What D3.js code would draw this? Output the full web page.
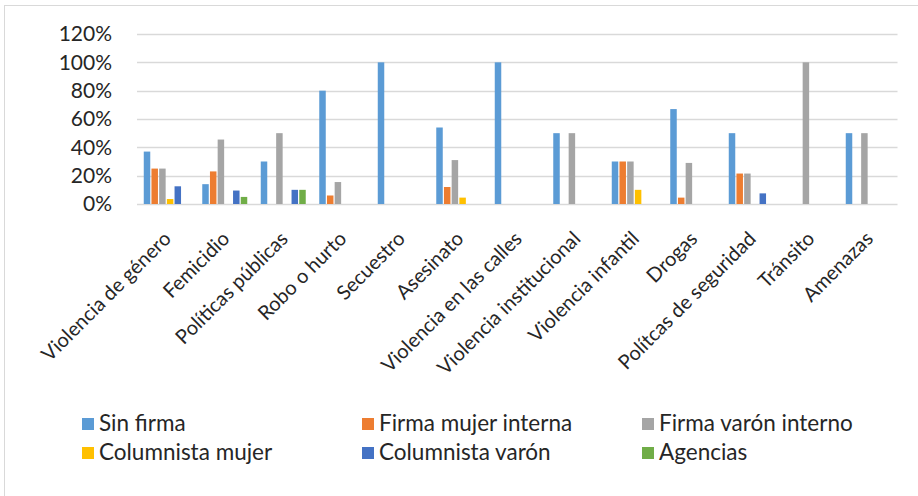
<!DOCTYPE html>
<html>
<head>
<meta charset="utf-8">
<script src="https://cdn.jsdelivr.net/npm/d3@7"></script>
<style>
  body { margin: 0; background: #fff; }
  svg text { font-family: Lato, "Open Sans", sans-serif; fill: #262626; }
</style>
</head>
<body>
<svg id="chart"></svg>
<script>
var width = 918, height = 496;

// Data
var categories = ["Violencia de género", "Femicidio", "Políticas públicas", "Robo o hurto",
    "Secuestro", "Asesinato", "Violencia en las calles", "Violencia institucional",
    "Violencia infantil", "Drogas", "Polítcas de seguridad", "Tránsito", "Amenazas"];
var series = ["Sin firma", "Firma mujer interna", "Firma varón interno",
    "Columnista mujer", "Columnista varón", "Agencias"];
var sinFirma        = [0.37, 0.14, 0.30, 0.80, 1.00, 0.54, 1.00, 0.50, 0.30, 0.67, 0.50, 0, 0.50];
var firmaMujer      = [0.25, 0.23, 0, 0.06, 0, 0.12, 0, 0, 0.30, 0.045, 0.215, 0, 0];
var firmaVaron      = [0.25, 0.455, 0.50, 0.155, 0, 0.31, 0, 0.50, 0.30, 0.29, 0.215, 1.00, 0.50];
var columnistaMujer = [0.035, 0, 0, 0, 0, 0.045, 0, 0, 0.10, 0, 0, 0, 0];
var columnistaVaron = [0.125, 0.095, 0.10, 0, 0, 0, 0, 0, 0, 0, 0.075, 0, 0];
var agencias        = [0, 0.05, 0.10, 0, 0, 0, 0, 0, 0, 0, 0, 0, 0];
var yTicks = [0, 0.2, 0.4, 0.6, 0.8, 1.0, 1.2];
var colors = ["#5B9BD5", "#ED7D31", "#A5A5A5", "#FFC000", "#4472C4", "#70AD47"];

var values = [sinFirma, firmaMujer, firmaVaron, columnistaMujer, columnistaVaron, agencias];

var svg = d3.select("#chart")
    .attr("width", width)
    .attr("height", height);

// outer frame
svg.append("rect")
    .attr("x", 4.5).attr("y", 5.5)
    .attr("width", 940).attr("height", 540)
    .attr("fill", "none")
    .attr("stroke", "#d9d9d9");

// Scales
var x0 = d3.scaleBand().domain(categories).range([137, 897.5]).padding(0);
var x1 = d3.scaleBand().domain(series).range([0, x0.bandwidth()])
    .paddingInner(0).paddingOuter(0.8);
var y = d3.scaleLinear().domain([0, 1.2]).range([204, 34]);

// gridlines
svg.append("g")
    .selectAll("line")
    .data(yTicks)
    .join("line")
    .attr("x1", 137).attr("x2", 897.5)
    .attr("y1", d => Math.round(y(d)) + 0.5)
    .attr("y2", d => Math.round(y(d)) + 0.5)
    .attr("stroke", "#d9d9d9")
    .attr("stroke-width", 1.3);

// y axis labels
var yAxis = svg.append("g")
    .attr("transform", "translate(112,0)")
    .call(d3.axisLeft(y).tickValues(yTicks).tickFormat(d3.format(".0%")).tickSize(0).tickPadding(0));
yAxis.select(".domain").remove();
yAxis.selectAll("text")
    .style("font-family", "Lato, sans-serif")
    .style("font-size", "21px")
    .attr("fill", "#262626");

// bars
var groups = svg.append("g")
    .selectAll("g")
    .data(categories)
    .join("g")
    .attr("transform", d => "translate(" + x0(d) + ",0)");

groups.selectAll("rect")
    .data((c, i) => series.map((s, j) => ({s: s, v: values[j][i], c: colors[j]})))
    .join("rect")
    .filter(d => d.v > 0)
    .attr("x", d => x1(d.s) + 0.6)
    .attr("width", x1.bandwidth() - 1.2)
    .attr("y", d => y(d.v))
    .attr("height", d => y(0) - y(d.v))
    .attr("fill", d => d.c);

// category labels
svg.append("g")
    .selectAll("text")
    .data(categories)
    .join("text")
    .attr("transform", d => "translate(" + (x0(d) + x0.bandwidth() / 2 + 6) + ",240) rotate(-45)")
    .attr("text-anchor", "end")
    .style("font-size", "20px")
    .text(d => d);

// legend
var legend = svg.append("g")
    .selectAll("g")
    .data(series)
    .join("g")
    .attr("transform", (d, i) => "translate(" + (82 + (i % 3) * 280) + "," + (431 + Math.floor(i / 3) * 29) + ")");
legend.append("rect")
    .attr("x", 0).attr("y", -13)
    .attr("width", 12).attr("height", 12)
    .attr("fill", (d, i) => colors[i]);
legend.append("text")
    .attr("x", 17).attr("y", 0)
    .style("font-size", "22.5px")
    .text(d => d);
</script>
</body>
</html>
